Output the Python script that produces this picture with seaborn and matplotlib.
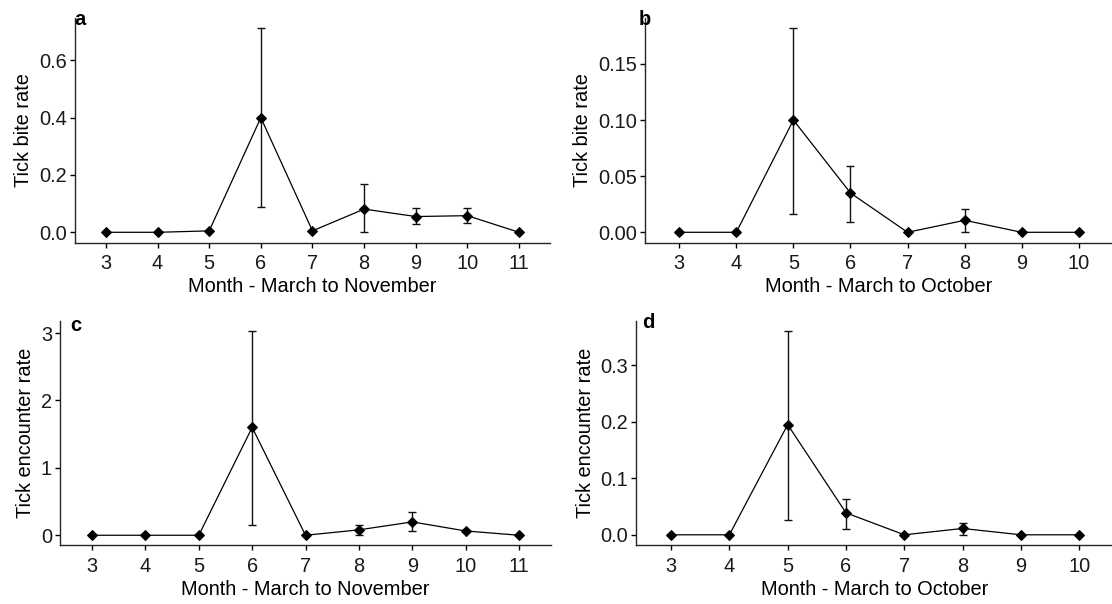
import numpy as np
import matplotlib
matplotlib.use("Agg")
import matplotlib.pyplot as plt
import seaborn as sns

# ---------------- data ----------------
months_a = [3, 4, 5, 6, 7, 8, 9, 10, 11]
bite_a = [0.0, 0.0, 0.005, 0.400, 0.005, 0.081, 0.055, 0.058, 0.0]
bite_a_lo = [0.0, 0.0, 0.005, 0.087, 0.005, 0.0, 0.028, 0.032, 0.0]
bite_a_hi = [0.0, 0.0, 0.005, 0.712, 0.005, 0.167, 0.086, 0.086, 0.0]

months_b = [3, 4, 5, 6, 7, 8, 9, 10]
bite_b = [0.0, 0.0, 0.100, 0.035, 0.0, 0.0107, 0.0, 0.0]
bite_b_lo = [0.0, 0.0, 0.016, 0.0092, 0.0, 0.0, 0.0, 0.0]
bite_b_hi = [0.0, 0.0, 0.1818, 0.059, 0.0, 0.0205, 0.0, 0.0]

months_c = [3, 4, 5, 6, 7, 8, 9, 10, 11]
enc_c = [0.0, 0.0, 0.0, 1.60, 0.0, 0.08, 0.198, 0.064, 0.0]
enc_c_lo = [0.0, 0.0, 0.0, 0.153, 0.0, 0.0, 0.06, 0.064, 0.0]
enc_c_hi = [0.0, 0.0, 0.0, 3.03, 0.0, 0.155, 0.34, 0.064, 0.0]

months_d = [3, 4, 5, 6, 7, 8, 9, 10]
enc_d = [0.0, 0.0, 0.1947, 0.0388, 0.0, 0.0112, 0.0, 0.0]
enc_d_lo = [0.0, 0.0, 0.0265, 0.0106, 0.0, 0.0, 0.0, 0.0]
enc_d_hi = [0.0, 0.0, 0.360, 0.063, 0.0, 0.020, 0.0, 0.0]

yticks_a = [0.0, 0.2, 0.4, 0.6]
yticklabels_a = ["0.0", "0.2", "0.4", "0.6"]
yticks_b = [0.00, 0.05, 0.10, 0.15]
yticklabels_b = ["0.00", "0.05", "0.10", "0.15"]
yticks_c = [0, 1, 2, 3]
yticklabels_c = ["0", "1", "2", "3"]
yticks_d = [0.0, 0.1, 0.2, 0.3]
yticklabels_d = ["0.0", "0.1", "0.2", "0.3"]

xlabel_nov = "Month - March to November"
xlabel_oct = "Month - March to October"
ylabel_bite = "Tick bite rate"
ylabel_enc = "Tick encounter rate"

# ---------------- style ----------------
sns.set_theme(style="ticks")
plt.rcParams["font.family"] = ["Liberation Sans", "DejaVu Sans"]
plt.rcParams["axes.linewidth"] = 1.0
plt.rcParams["xtick.major.width"] = 1.0
plt.rcParams["ytick.major.width"] = 1.0
plt.rcParams["xtick.major.size"] = 3.3
plt.rcParams["ytick.major.size"] = 3.3

fig = plt.figure(figsize=(11.12, 6.04), dpi=100)

panels = [
    ([0.0674, 0.5985, 0.4272, 0.3717], months_a, bite_a, bite_a_lo, bite_a_hi,
     yticks_a, yticklabels_a, xlabel_nov, ylabel_bite, "a", (74, 10)),
    ([0.5800, 0.5985, 0.4210, 0.3717], months_b, bite_b, bite_b_lo, bite_b_hi,
     yticks_b, yticklabels_b, xlabel_oct, ylabel_bite, "b", (639, 10)),
    ([0.0540, 0.0969, 0.4415, 0.3720], months_c, enc_c, enc_c_lo, enc_c_hi,
     yticks_c, yticklabels_c, xlabel_nov, ylabel_enc, "c", (70, 316)),
    ([0.5720, 0.0977, 0.4300, 0.3710], months_d, enc_d, enc_d_lo, enc_d_hi,
     yticks_d, yticklabels_d, xlabel_oct, ylabel_enc, "d", (642, 313)),
]

W, H = 1112, 604
for rect, months, vals, lo, hi, yt, ytl, xl, yl, letter, lpos in panels:
    ax = fig.add_axes(rect)
    m = np.array(months, dtype=float)
    v = np.array(vals)
    l = np.array(lo)
    h = np.array(hi)
    ax.errorbar(m, v, yerr=[np.clip(v - l, 0, None), np.clip(h - v, 0, None)],
                fmt="none", ecolor="#111111", elinewidth=1.0, capsize=3,
                capthick=1.0, zorder=2)
    sns.lineplot(x=m, y=v, ax=ax, color="black", linewidth=0.9,
                 marker="D", markersize=4.6, markeredgecolor="black",
                 errorbar=None, zorder=3)
    ymin = min(l.min(), v.min())
    ymax = max(h.max(), v.max())
    r = ymax - ymin
    ax.set_ylim(ymin - 0.05 * r, ymax + 0.05 * r)
    ax.set_xlim(m.min() - 0.6, m.max() + 0.6)
    ax.set_xticks(months)
    ax.set_xticklabels([str(x) for x in months])
    ax.set_yticks(yt)
    ax.set_yticklabels(ytl)
    ax.tick_params(axis="x", labelsize=14.4, colors="black",
                   labelcolor="#1a1a1a", pad=5)
    ax.tick_params(axis="y", labelsize=14.4, colors="black",
                   labelcolor="#1a1a1a", pad=2.5)
    ax.set_xlabel(xl, fontsize=14.4, color="black", labelpad=3)
    ax.set_ylabel(yl, fontsize=14.4, color="black", labelpad=4)
    sns.despine(ax=ax)
    fig.text(lpos[0] / W, 1 - lpos[1] / H, letter, fontsize=14.5,
             fontweight="bold", ha="left", va="top", color="black")

fig.savefig("out.png", dpi=100)
